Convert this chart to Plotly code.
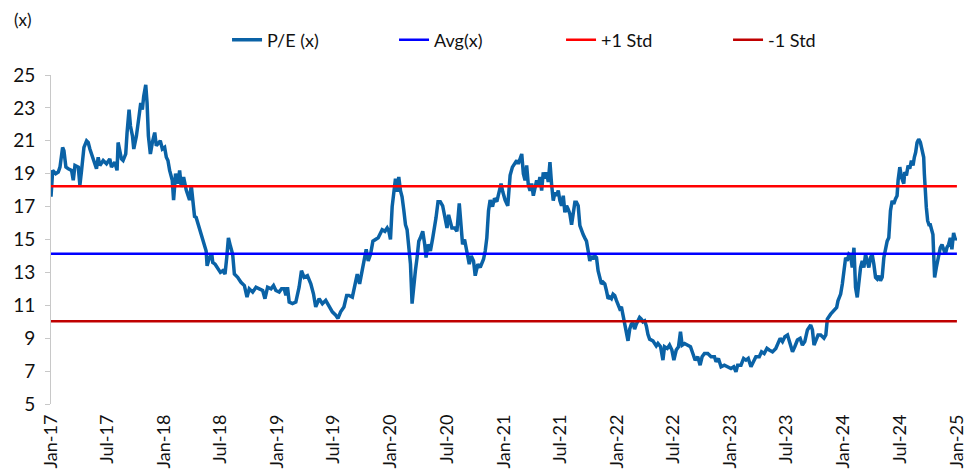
import numpy as np
import pandas as pd
import plotly.graph_objects as go

# P/E series: x = months elapsed since 1 Jan 2017, y = P/E (x)
pe_month = [
    0.0, 0.18, 0.5, 0.77, 0.95, 1.23, 1.37, 1.58, 1.83, 2.18, 2.36, 2.54, 2.89, 3.06, 3.24, 3.49, 3.77, 3.94,
    4.12, 4.47, 4.65, 4.82, 5.0, 5.18, 5.53, 5.88, 6.23, 6.41, 6.76, 7.0, 7.11, 7.29, 7.46, 7.64, 7.92, 8.06,
    8.27, 8.42, 8.63, 8.77, 9.05, 9.33, 9.51, 9.68, 9.82, 10.04, 10.18, 10.32, 10.53, 10.74, 10.99, 11.16,
    11.34, 11.58, 11.8, 12.04, 12.22, 12.39, 12.57, 12.85, 12.99, 13.2, 13.45, 13.63, 13.8, 14.05, 14.33,
    14.51, 14.68, 14.86, 15.04, 15.21,
    15.38, 15.73, 15.98, 16.26, 16.44, 16.54, 16.79, 17.04, 17.14, 17.39, 17.67, 17.95, 18.2, 18.44, 18.62,
    18.8, 19.01, 19.25, 19.43, 19.78, 20.13, 20.49, 20.77, 21.01, 21.37, 21.72, 22.07, 22.43, 22.67, 22.95,
    23.31, 23.58, 23.83, 24.18, 24.43, 24.71, 24.89, 25.06, 25.24, 25.59, 25.94, 26.29, 26.54, 26.82, 27.17,
    27.53, 27.81, 28.05, 28.41, 28.76, 29.11, 29.46, 29.81, 30.17, 30.41, 30.69, 31.04, 31.33, 31.57, 31.93,
    32.21, 32.45,
    32.7, 32.98, 33.15, 33.4, 33.61, 33.86, 34.11, 34.39, 34.67, 34.92, 35.09, 35.38, 35.62, 35.8, 35.97,
    36.15, 36.33, 36.5, 36.68, 36.85, 37.03, 37.2, 37.38, 37.56, 37.73, 37.91, 38.09, 38.26, 38.44, 38.61,
    38.79, 38.97, 39.14, 39.39, 39.6, 39.74, 39.95, 40.2, 40.45, 40.65, 40.79, 41.01, 41.25, 41.5, 41.78,
    41.96, 42.13, 42.31, 42.48, 42.77, 43.01, 43.26, 43.47, 43.61, 43.82, 44.07, 44.32, 44.53, 44.77, 44.95,
    45.23, 45.48, 45.83, 46.01, 46.18, 46.36, 46.53, 46.78, 46.99, 47.24, 47.48, 47.69, 47.87, 48.12, 48.4,
    48.65, 48.89,
    49.17, 49.35, 49.52, 49.7, 49.88, 50.05, 50.23, 50.4, 50.58, 50.76, 50.93, 51.11, 51.28, 51.46, 51.64,
    51.81, 51.99, 52.16, 52.34, 52.52, 52.69, 52.87, 53.04, 53.22, 53.4, 53.57, 53.75, 53.92, 54.1, 54.28,
    54.45, 54.63, 54.8, 54.98, 55.16, 55.33, 55.51, 55.68, 55.86, 56.04, 56.21, 56.39, 56.56, 56.74, 56.92,
    57.09, 57.27, 57.44, 57.62, 57.8, 57.97, 58.15, 58.32, 58.5, 58.68, 58.85, 59.03, 59.2, 59.38, 59.56,
    59.73, 59.91, 60.08, 60.26, 60.44, 60.61, 60.79, 60.96, 61.14, 61.32, 61.49, 61.67, 61.84, 62.02, 62.2,
    62.37, 62.55, 62.72, 62.9, 63.08, 63.25, 63.43, 63.78, 64.13,
    64.31, 64.59, 64.84, 65.01, 65.3, 65.54, 65.79, 66.0, 66.25, 66.49, 66.7, 66.88, 67.13, 67.48, 67.76,
    68.01, 68.25, 68.53, 68.78, 68.99, 69.24, 69.59, 69.94, 70.3, 70.47, 70.72, 71.0, 71.35, 71.7, 72.05,
    72.34, 72.58, 72.76, 73.11, 73.39, 73.64, 73.88, 74.17, 74.52, 74.69, 75.05, 75.29, 75.57, 75.86, 76.1,
    76.45, 76.8, 76.98, 77.26, 77.51, 77.76, 78.04, 78.32, 78.57, 78.81, 79.09, 79.38, 79.62, 79.87, 80.15,
    80.5, 80.68, 80.85, 81.03, 81.28, 81.56, 81.9, 82.1,
    82.26, 82.61, 82.97, 83.25, 83.39, 83.67, 83.85, 84.02, 84.2, 84.37, 84.55, 84.73, 84.9, 85.08, 85.25,
    85.43, 85.61, 85.78, 85.96, 86.13, 86.31, 86.49, 86.66, 86.84, 87.01, 87.19, 87.37, 87.54, 87.72, 87.89,
    88.07, 88.25, 88.42, 88.6, 88.77, 88.95, 89.13, 89.3, 89.48, 89.65, 89.76, 89.94, 90.11, 90.36, 90.46,
    90.64, 90.82, 90.99, 91.17, 91.34, 91.48, 91.62, 91.77, 91.94, 92.12, 92.29, 92.47, 92.54, 92.65, 92.75,
    92.89, 93.03, 93.17, 93.35, 93.45, 93.53, 93.63, 93.81, 93.98, 94.23, 94.41, 94.58, 94.76, 94.93, 95.11,
    95.29, 95.46, 95.64, 95.82, 95.99,
]
pe_value = [
    17.6, 19.2, 19.0, 19.1, 19.4, 20.6, 20.4, 19.4, 19.3, 19.2, 18.6, 19.5, 19.4, 18.3, 19.2, 20.6, 21.0, 20.9,
    20.5, 19.9, 19.6, 19.3, 20.0, 19.5, 19.8, 19.6, 19.9, 19.4, 19.7, 19.2, 20.9, 20.4, 19.9, 19.8, 20.2, 21.5,
    22.9, 21.9, 21.3, 20.5, 21.3, 22.5, 23.3, 22.9, 23.7, 24.4, 23.3, 21.3, 20.2, 20.9, 21.5, 20.7,
    20.8, 21.0, 20.5, 20.6, 20.0, 19.8, 19.2, 18.6, 17.4, 19.0, 18.4, 19.2, 18.2, 18.8, 18.0,
    17.6, 17.4, 18.3, 17.2, 16.4,
    16.34, 15.7, 15.1, 14.7, 14.3, 13.4, 13.9, 14.1, 13.6, 13.5, 13.2, 13.0, 13.1, 12.9, 13.9,
    15.1, 14.6, 14.1, 12.9, 12.7, 12.4, 12.2, 11.5, 12.0, 11.8, 12.1, 12.0, 11.9, 11.4, 12.1,
    12.0, 12.2, 11.9, 11.8, 12.0, 12.0, 11.6, 12.1, 11.2, 11.1, 11.2, 12.1, 13.1, 12.7, 12.8,
    12.3, 11.7, 10.9, 11.4, 11.1, 11.3, 10.9, 10.6, 10.4, 10.2, 10.6, 10.9, 11.6, 11.6, 11.5,
    12.3, 12.9,
    12.3, 13.1, 13.7, 14.4, 13.7, 14.1, 14.9, 15.0, 15.1, 15.4, 15.6, 15.5, 15.7, 15.5, 15.0,
    17.0, 17.7, 18.7, 17.9, 18.8, 17.97, 17.6, 16.8, 15.9, 15.6, 14.7, 13.5, 11.1, 12.5, 13.1,
    13.9, 14.9, 15.1, 15.5, 14.7, 13.9, 14.7, 14.3, 15.1, 15.7, 16.3, 17.3, 17.3, 17.05, 16.3,
    15.7, 16.5, 16.1, 15.7, 15.7, 15.5, 17.2, 15.5, 14.7, 15.0, 14.3, 13.5, 14.0, 13.7, 12.8,
    13.5, 13.3, 13.8, 14.3, 15.1, 16.75, 17.4, 17.0, 17.5, 17.3, 17.8, 18.4, 17.9, 17.4, 17.05,
    18.9, 19.4,
    19.7, 19.8, 19.6, 20.0, 20.2, 19.0, 18.6, 19.5, 18.3, 17.97, 18.4, 17.66, 18.1, 18.6, 18.3,
    18.8, 17.97, 19.08, 18.7, 19.08, 18.5, 19.7, 18.37, 17.36, 17.86, 17.66, 17.97, 17.36, 17.05, 17.66,
    16.65, 17.05, 16.85, 16.55, 15.9, 16.75, 17.26, 17.26, 17.05, 15.84, 15.5, 15.3, 15.1, 14.9, 14.3,
    13.7, 14.0, 13.8, 14.0, 13.9, 13.1, 12.7, 12.3, 12.4, 12.3, 11.9, 11.4, 11.5, 11.4, 11.68,
    11.6, 11.3, 11.07, 10.8, 10.9, 10.36, 10.06, 9.55, 8.84, 9.55, 9.85, 9.95, 9.55, 9.85, 10.06,
    10.26, 10.16, 10.0, 10.06, 9.75, 9.24, 8.94, 8.84, 8.53,
    8.68, 8.48, 7.67, 8.48, 8.38, 8.58, 8.28, 7.67, 8.28, 8.48, 9.39, 8.58, 8.68, 8.58, 8.48,
    8.07, 7.67, 7.87, 7.36, 7.87, 8.07, 8.07, 7.87, 7.87, 7.57, 7.77, 7.26, 7.36, 7.26, 7.16,
    7.26, 6.96, 7.36, 7.36, 7.77, 7.67, 7.77, 7.26, 7.67, 7.87, 7.87, 8.17, 8.07, 8.38, 8.28,
    8.17, 8.38, 8.68, 8.99, 8.79, 9.09, 9.19, 8.68, 8.17, 8.48, 8.89, 8.99, 8.58, 8.79, 9.5,
    9.8, 9.5, 8.58, 8.89, 9.19, 9.19, 9.0, 9.2,
    10.16, 10.46, 10.66, 10.87, 11.27, 11.68, 12.29, 13.3, 13.9, 13.7, 14.1, 14.0, 13.3, 14.5, 12.08,
    11.48, 12.49, 13.3, 13.7, 13.3, 14.1, 13.7, 13.3, 13.9, 14.1, 13.5, 12.7, 12.6, 12.8, 12.49,
    12.7, 13.9, 14.4, 14.9, 15.1, 16.75, 17.36, 17.16, 17.46, 17.66, 18.6, 19.4, 18.8, 18.4, 19.1,
    18.9, 19.5, 19.3, 19.8, 19.5, 20.0, 20.3, 20.9, 21.1, 20.9, 20.4, 20.0, 19.0, 17.36, 16.95,
    16.14, 15.9, 15.9, 15.6, 15.3, 14.1, 12.69, 13.3, 13.9, 14.5, 14.7, 14.4, 14.1, 14.5, 14.7,
    15.1, 14.4, 15.4, 15.0, 15.1,
]

avg_value = 14.13
std_value = 4.1

series_names = ["P/E (x)", "Avg(x)", "+1 Std", "-1 Std"]
series_colors = ["#0A62A6", "#0000FF", "#FF0000", "#C00000"]

start = pd.Timestamp("2017-01-01")
dates = [start + pd.Timedelta(days=m * 30.4375) for m in pe_month]
span = [dates[0], dates[-1]]

fig = go.Figure()
fig.add_trace(go.Scatter(x=dates, y=pe_value, mode="lines", name=series_names[0],
                         line=dict(color=series_colors[0], width=3.5)))
fig.add_trace(go.Scatter(x=span, y=[avg_value] * 2, mode="lines", name=series_names[1],
                         line=dict(color=series_colors[1], width=2.5)))
fig.add_trace(go.Scatter(x=span, y=[avg_value + std_value] * 2, mode="lines", name=series_names[2],
                         line=dict(color=series_colors[2], width=2.5)))
fig.add_trace(go.Scatter(x=span, y=[avg_value - std_value] * 2, mode="lines", name=series_names[3],
                         line=dict(color=series_colors[3], width=2.5)))

fig.update_layout(
    width=968, height=472,
    margin=dict(l=51, r=11, t=75, b=68, autoexpand=False),
    paper_bgcolor="white", plot_bgcolor="white",
    font=dict(family="Lato, 'Open Sans', sans-serif", color="#111111", size=17),
    showlegend=True,
    legend=dict(orientation="h", x=0.1943, xanchor="left", y=1.106, yanchor="middle",
                entrywidth=122, entrywidthmode="pixels",
                font=dict(size=18, color="#111111"), bgcolor="rgba(0,0,0,0)",
                traceorder="normal"),
    annotations=[dict(text="(x)", xref="paper", yref="paper", x=-0.043, y=1.17,
                      xanchor="left", yanchor="middle", showarrow=False,
                      font=dict(size=17, color="#111111"))],
)
fig.update_xaxes(
    type="date", range=["2017-01-01", "2025-01-01"],
    tick0="2017-01-01", dtick="M6", tickformat="%b-%y", tickangle=-90,
    showgrid=False, showline=False, zeroline=False, ticks="",
    ticklabelstandoff=6, automargin=False, ticklabeloverflow="allow",
    tickfont=dict(size=18, color="#111111"),
)
fig.update_yaxes(
    range=[5, 25], tick0=5, dtick=2,
    showgrid=False, zeroline=False, showline=True, linecolor="#C8C8C8", linewidth=1,
    ticks="outside", ticklen=5, tickcolor="#C8C8C8",
    ticklabelstandoff=6, automargin=False,
    tickfont=dict(size=19, color="#111111"),
)

fig.write_html("out.html")
